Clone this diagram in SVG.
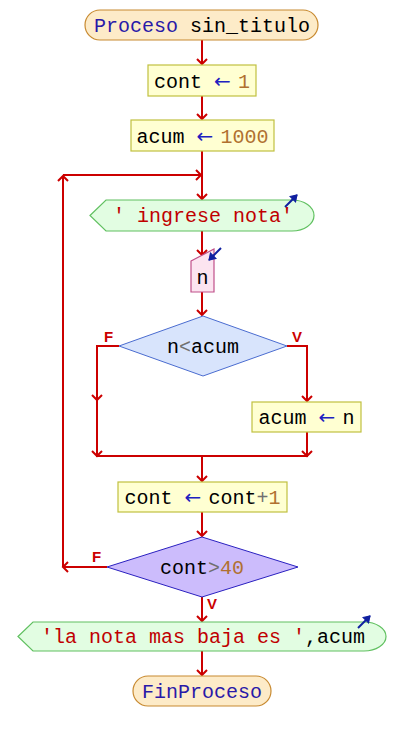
<svg xmlns="http://www.w3.org/2000/svg" width="404" height="741" viewBox="0 0 404 741">
<style>
.t{font-family:"Liberation Mono","DejaVu Sans Mono",monospace;font-size:20px;fill:#000}
.kw{fill:#2a1aa8}.op{fill:#2020c0;font-family:"DejaVu Sans",sans-serif;letter-spacing:-4.8px}.num{fill:#b07030}.str{fill:#c00000}.gr{fill:#707070}
.term{fill:#fdebc8;stroke:#c88a30;stroke-width:1.2}
.proc{fill:#ffffd2;stroke:#c0c040;stroke-width:1.2}
.out{fill:#e2fde2;stroke:#60c060;stroke-width:1.2}
.inp{fill:#fce4f0;stroke:#c0508a;stroke-width:1.2}
.d1{fill:#d8e4fc;stroke:#4a6cd0;stroke-width:1}
.d2{fill:#ccbcfc;stroke:#2a20c0;stroke-width:1}
.c{fill:none;stroke:#cc0000;stroke-width:2}
.io{fill:none;stroke:#1020a0;stroke-width:2}
.lbl{font-family:"Liberation Sans",Arial,sans-serif;font-size:15px;font-weight:bold;fill:#cc0000}
</style>
<defs>
<marker id="a" viewBox="-7 -6 9 12" markerWidth="9" markerHeight="12" refX="0" refY="0" orient="auto" markerUnits="userSpaceOnUse">
<path d="M-5,-5 L0,0 L-5,5" fill="none" stroke="#cc0000" stroke-width="2"/>
</marker>
<marker id="b" viewBox="-7 -6 9 12" markerWidth="9" markerHeight="12" refX="0" refY="0" orient="auto" markerUnits="userSpaceOnUse">
<path d="M-6,-4 L0,0 L-6,4 Z" fill="#1020a0" stroke="#1020a0" stroke-width="1"/>
</marker>
</defs>
<g id="connectors">
<path class="c" d="M202,40 V64" marker-end="url(#a)"/>
<path class="c" d="M202,96 V119" marker-end="url(#a)"/>
<path class="c" d="M202,151 V175"/>
<path class="c" d="M202,175 V199" marker-end="url(#a)"/>
<path class="c" d="M107,567 H63" marker-end="url(#a)"/>
<path class="c" d="M63,567 V176" marker-end="url(#a)"/>
<path class="c" d="M63,175 H201" marker-end="url(#a)"/>
<path class="c" d="M202,231 V255" marker-end="url(#a)"/>
<path class="c" d="M202,292 V315" marker-end="url(#a)"/>
<path class="c" d="M119,346 H97 V400" marker-end="url(#a)"/>
<path class="c" d="M97,400 V456" marker-end="url(#a)"/>
<path class="c" d="M287,346 H307 V401" marker-end="url(#a)"/>
<path class="c" d="M307,432 V456" marker-end="url(#a)"/>
<path class="c" d="M96,456 H308"/>
<path class="c" d="M202,456 V481" marker-end="url(#a)"/>
<path class="c" d="M202,512 V536" marker-end="url(#a)"/>
<path class="c" d="M202,597 V621" marker-end="url(#a)"/>
<path class="c" d="M202,651 V675" marker-end="url(#a)"/>
<text class="lbl" x="104" y="342">F</text>
<text class="lbl" x="292" y="342">V</text>
<text class="lbl" x="92" y="562">F</text>
<text class="lbl" x="207" y="609">V</text>
</g>
<g id="inicio">
<rect class="term" x="85" y="10" width="233" height="30" rx="15"/>
<text class="t" x="202" y="32" text-anchor="middle"><tspan class="kw">Proceso</tspan> sin_titulo</text>
</g>
<g id="asig1">
<rect class="proc" x="148" y="65" width="108" height="31"/>
<text class="t" x="202" y="87.5" text-anchor="middle">cont <tspan class="op">←</tspan> <tspan class="num">1</tspan></text>
</g>
<g id="asig2">
<rect class="proc" x="131" y="120" width="143" height="31"/>
<text class="t" x="202.5" y="142.5" text-anchor="middle">acum <tspan class="op">←</tspan> <tspan class="num">1000</tspan></text>
</g>
<g id="escribir1">
<path class="out" d="M90,215.5 L106,200 H292 A22,15.5 0 0 1 292,231 H106 Z"/>
<text class="t str" x="113" y="222">' ingrese nota'</text>
<path class="io" d="M285,207 L297,195" marker-end="url(#b)"/>
</g>
<g id="leer">
<polygon class="inp" points="191,261 214,249 214,292 191,292"/>
<text class="t" x="202.5" y="284" text-anchor="middle">n</text>
<path class="io" d="M221,248 L209,260" marker-end="url(#b)"/>
</g>
<g id="si1">
<polygon class="d1" points="119,346 203,316 287,346 203,376"/>
<text class="t" x="203" y="353" text-anchor="middle">n<tspan class="gr">&lt;</tspan>acum</text>
</g>
<g id="asig3">
<rect class="proc" x="252" y="402" width="109" height="30"/>
<text class="t" x="306.5" y="424" text-anchor="middle">acum <tspan class="op">←</tspan> n</text>
</g>
<g id="asig4">
<rect class="proc" x="118" y="482" width="169" height="30"/>
<text class="t" x="202.5" y="504" text-anchor="middle">cont <tspan class="op">←</tspan> cont<tspan class="gr">+</tspan><tspan class="num">1</tspan></text>
</g>
<g id="hasta">
<polygon class="d2" points="107,567 202,537 298,567 202,597"/>
<text class="t" x="202" y="574" text-anchor="middle">cont<tspan class="gr">&gt;</tspan><tspan class="num">40</tspan></text>
</g>
<g id="escribir2">
<path class="out" d="M18,636.5 L33,622 H364 A22,14.5 0 0 1 364,651 H33 Z"/>
<text class="t" x="41" y="643"><tspan class="str">'la nota mas baja es '</tspan>,acum</text>
<path class="io" d="M358,628 L370,616" marker-end="url(#b)"/>
</g>
<g id="fin">
<rect class="term" x="133" y="676" width="138" height="30" rx="15"/>
<text class="t kw" x="202" y="698" text-anchor="middle">FinProceso</text>
</g>
</svg>
